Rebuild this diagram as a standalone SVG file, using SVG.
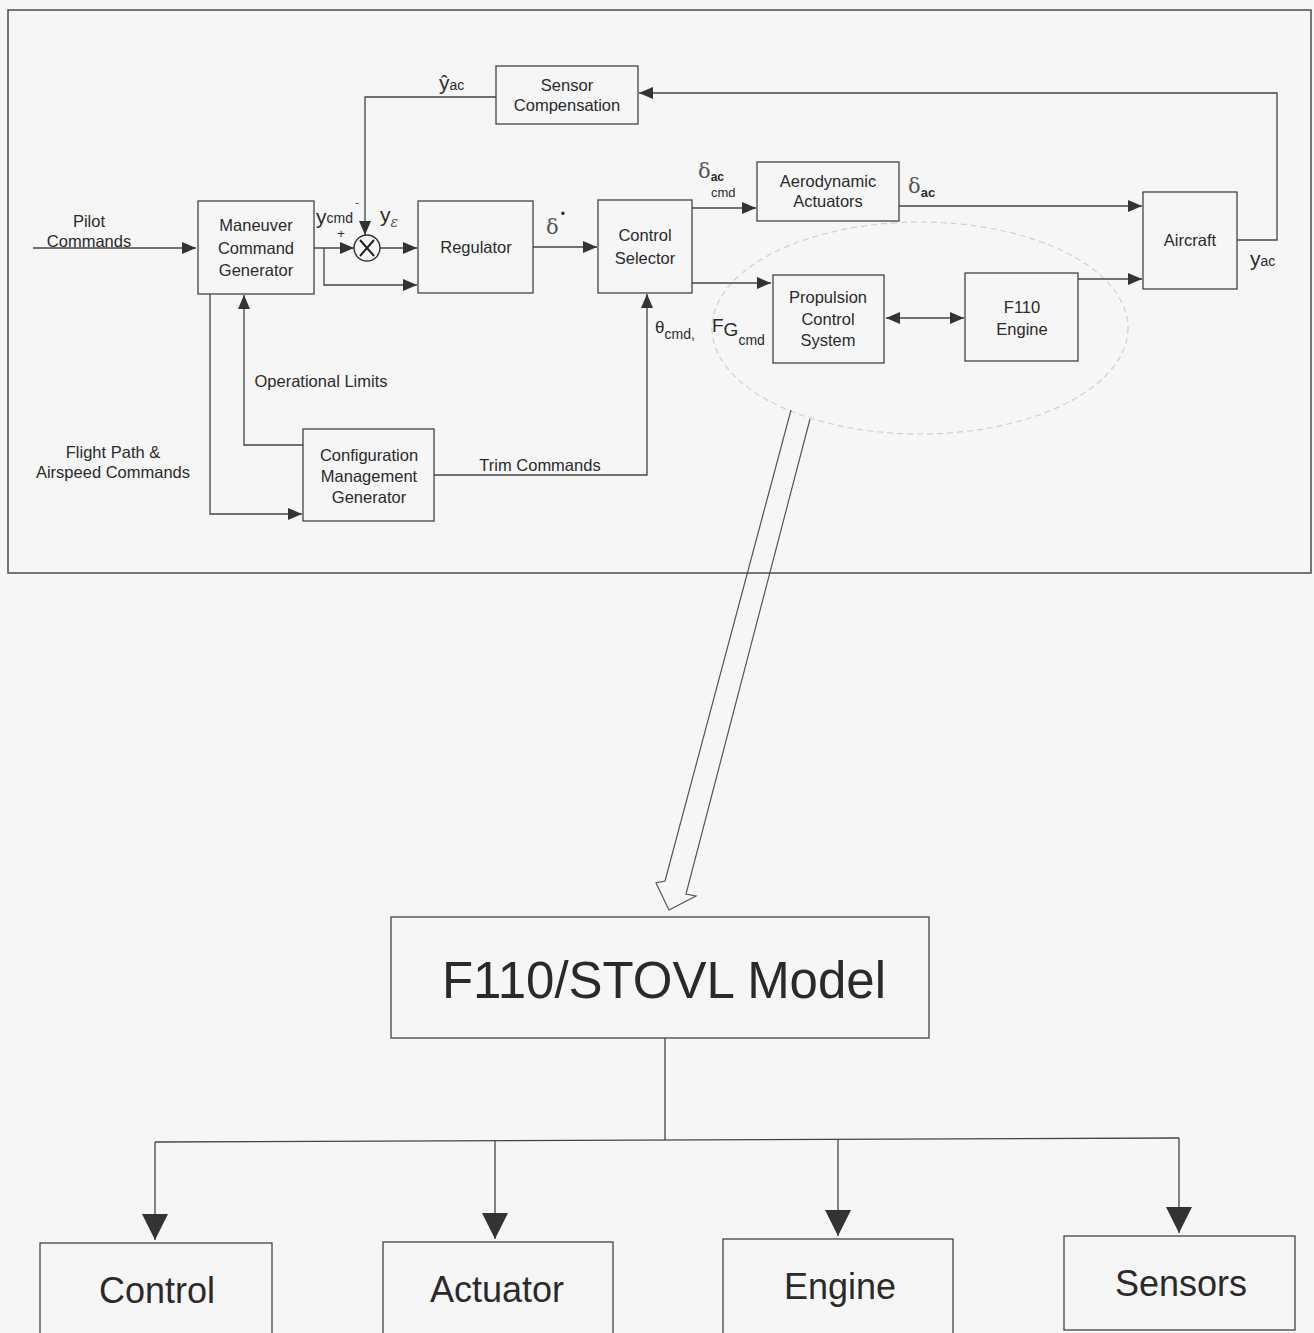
<svg xmlns="http://www.w3.org/2000/svg" width="1314" height="1333" viewBox="0 0 1314 1333">
<defs>
<style>
.bg{fill:#f6f6f6}
.box{fill:none;stroke:#444;stroke-width:1.3}
.ln{fill:none;stroke:#444;stroke-width:1.3}
.t{font-family:"Liberation Sans",Arial,sans-serif;font-size:16.5px;fill:#2a2a2a;text-anchor:middle}
.s{font-family:"Liberation Sans",Arial,sans-serif;fill:#2a2a2a}
.g{font-family:"DejaVu Serif","Liberation Serif",serif;fill:#555;font-style:italic}
.big{font-family:"Liberation Sans",Arial,sans-serif;fill:#2a2a2a;text-anchor:middle}
</style>
<marker id="ar" viewBox="0 0 14 12" refX="14" refY="6" markerWidth="14" markerHeight="12" markerUnits="userSpaceOnUse" orient="auto-start-reverse">
<path d="M0,0 L14,6 L0,12 z" fill="#333"/>
</marker>
<marker id="arb" viewBox="0 0 26 26" refX="26" refY="13" markerWidth="26" markerHeight="26" markerUnits="userSpaceOnUse" orient="auto">
<path d="M0,0 L26,13 L0,26 z" fill="#333"/>
</marker>
</defs>
<rect class="bg" x="0" y="0" width="1314" height="1333"/>
<rect x="8" y="10" width="1303" height="563" fill="none" stroke="#555" stroke-width="1.6"/>
<ellipse cx="920" cy="328" rx="208" ry="106" fill="none" stroke="#cfcfcf" stroke-width="1.2" stroke-dasharray="6 4"/>

<g id="connectors">
<path class="ln" d="M33,248 H196" marker-end="url(#ar)"/>
<path class="ln" d="M314,248 H354" marker-end="url(#ar)"/>
<path class="ln" d="M380,248 H417" marker-end="url(#ar)"/>
<path class="ln" d="M324,248 V285 H417" marker-end="url(#ar)"/>
<path class="ln" d="M496,97 H365 V235" marker-end="url(#ar)"/>
<path class="ln" d="M1237,240 H1277 V93 H639" marker-end="url(#ar)"/>
<path class="ln" d="M533,247 H597" marker-end="url(#ar)"/>
<path class="ln" d="M692,208 H756" marker-end="url(#ar)"/>
<path class="ln" d="M692,283 H771" marker-end="url(#ar)"/>
<path class="ln" d="M899,206 H1142" marker-end="url(#ar)"/>
<path class="ln" d="M1078,279 H1142" marker-end="url(#ar)"/>
<path class="ln" d="M886,318 H964" marker-start="url(#ar)" marker-end="url(#ar)"/>
<path class="ln" d="M434,475 H647 V294" marker-end="url(#ar)"/>
<path class="ln" d="M303,445 H244 V295" marker-end="url(#ar)"/>
<path class="ln" d="M210,294 V514 H302" marker-end="url(#ar)"/>
<path fill="none" stroke="#555" stroke-width="1.2" d="M791,410 L665,881 L656,883 L669,910 L696,896 L686,894 L810,419"/>
<path class="ln" d="M665,1038 V1140"/>
<path class="ln" d="M155,1142 L1179,1138"/>
<path class="ln" d="M155,1142 V1240" marker-end="url(#arb)"/>
<path class="ln" d="M495,1141 V1239" marker-end="url(#arb)"/>
<path class="ln" d="M838,1140 V1236" marker-end="url(#arb)"/>
<path class="ln" d="M1179,1138 V1233" marker-end="url(#arb)"/>
</g>

<g id="labels">
<text class="t" x="89" y="227">Pilot</text>
<text class="t" x="89" y="247">Commands</text>
<text class="t" x="321" y="387">Operational Limits</text>
<text class="t" x="113" y="458">Flight Path &amp;</text>
<text class="t" x="113" y="478">Airspeed Commands</text>
<text class="t" x="540" y="471">Trim Commands</text>
<text class="s" x="316" y="224" font-size="21">y<tspan font-size="14" dy="-1">cmd</tspan></text>
<text class="s" x="341" y="238" font-size="13" text-anchor="middle">+</text>
<text class="s" x="357" y="206" font-size="10" text-anchor="middle">-</text>
<text class="s" x="380" y="222" font-size="21">y<tspan class="g" font-size="14" dy="5">ε</tspan></text>
<text class="s" x="439" y="90" font-size="21">ŷ<tspan font-size="14">ac</tspan></text>
<text class="g" x="546" y="234" font-size="21" style="font-style:normal">δ<tspan class="s" font-size="12" dx="2" dy="-16">•</tspan></text>
<text class="g" x="698" y="178" font-size="21" style="font-style:normal">δ<tspan class="s" font-size="12" font-weight="bold" dy="3">ac</tspan></text>
<text class="s" x="711" y="197" font-size="13">cmd</text>
<text class="g" x="908" y="193" font-size="21" style="font-style:normal">δ<tspan class="s" font-size="13" font-weight="bold" dy="4">ac</tspan></text>
<text class="s" x="1250" y="266" font-size="21">y<tspan font-size="14">ac</tspan></text>
<text class="s" x="655" y="333" font-size="17" fill="#555">θ<tspan font-size="14" dy="6" fill="#2a2a2a">cmd,</tspan></text>
<text class="s" x="712" y="332" font-size="19">F<tspan font-size="19" dy="4">G</tspan><tspan font-size="14" dy="9">cmd</tspan></text>
</g>

<g id="mcg"><rect class="box" x="198" y="201" width="116" height="93"/>
<text class="t" x="256" y="231">Maneuver</text><text class="t" x="256" y="254">Command</text><text class="t" x="256" y="276">Generator</text></g>
<g id="sum"><circle cx="367" cy="248" r="13" fill="none" stroke="#333" stroke-width="1.4"/>
<path d="M360,240 L374,256 M374,240 L360,256" stroke="#222" stroke-width="2"/></g>
<g id="regulator"><rect class="box" x="418" y="201" width="115" height="92"/>
<text class="t" x="476" y="253">Regulator</text></g>
<g id="sensorcomp"><rect class="box" x="496" y="66" width="142" height="58"/>
<text class="t" x="567" y="91">Sensor</text><text class="t" x="567" y="111">Compensation</text></g>
<g id="controlselector"><rect class="box" x="598" y="200" width="94" height="93"/>
<text class="t" x="645" y="241">Control</text><text class="t" x="645" y="264">Selector</text></g>
<g id="aero"><rect class="box" x="757" y="162" width="142" height="59"/>
<text class="t" x="828" y="187">Aerodynamic</text><text class="t" x="828" y="207">Actuators</text></g>
<g id="propulsion"><rect class="box" x="773" y="275" width="111" height="88"/>
<text class="t" x="828" y="303">Propulsion</text><text class="t" x="828" y="325">Control</text><text class="t" x="828" y="346">System</text></g>
<g id="f110"><rect class="box" x="965" y="273" width="113" height="88"/>
<text class="t" x="1022" y="313">F110</text><text class="t" x="1022" y="335">Engine</text></g>
<g id="aircraft"><rect class="box" x="1143" y="192" width="94" height="97"/>
<text class="t" x="1190" y="246">Aircraft</text></g>
<g id="config"><rect class="box" x="303" y="429" width="131" height="92"/>
<text class="t" x="369" y="461">Configuration</text><text class="t" x="369" y="482">Management</text><text class="t" x="369" y="503">Generator</text></g>

<g id="model"><rect class="box" x="391" y="917" width="538" height="121"/>
<text class="big" x="664" y="998" font-size="51">F110/STOVL Model</text></g>
<g id="control"><rect class="box" x="40" y="1243" width="232" height="100"/>
<text class="big" x="157" y="1303" font-size="36">Control</text></g>
<g id="actuator"><rect class="box" x="383" y="1242" width="230" height="100"/>
<text class="big" x="497" y="1302" font-size="36">Actuator</text></g>
<g id="engine"><rect class="box" x="723" y="1239" width="230" height="100"/>
<text class="big" x="840" y="1299" font-size="36">Engine</text></g>
<g id="sensors"><rect class="box" x="1064" y="1236" width="231" height="94"/>
<text class="big" x="1181" y="1296" font-size="36">Sensors</text></g>
</svg>
